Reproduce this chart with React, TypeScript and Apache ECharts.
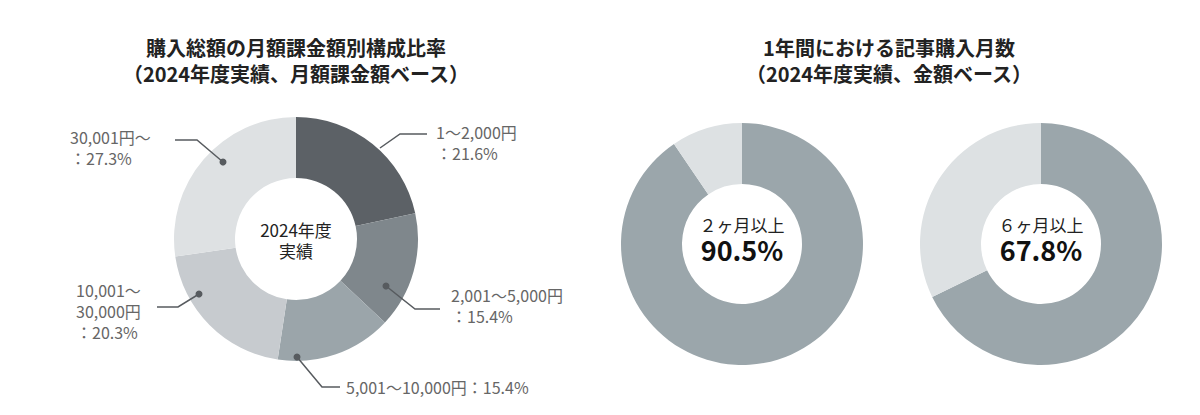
import React, { useEffect, useRef } from 'react';
import * as echarts from 'echarts';

// ---------- text ----------
const LEFT_TITLE = '購入総額の月額課金額別構成比率\n（2024年度実績、月額課金額ベース）';
const RIGHT_TITLE = '1年間における記事購入月数\n（2024年度実績、金額ベース）';
const CENTER_TEXT = '2024年度\n実績';

// ---------- data: left donut ----------
const TIER_NAMES = ['1～2,000円', '2,001～5,000円', '5,001～10,000円', '10,001～\n30,000円', '30,001円～'];
const TIER_SEPARATORS = ['\n：', '\n：', '：', '\n：', '\n：'];
const TIER_SHARES = [21.6, 15.4, 15.4, 20.3, 27.3];
const TIER_COLORS = ['#5c6166', '#7f878c', '#9ba5aa', '#c7cbcf', '#dee1e3'];

// ---------- data: right donuts ----------
const MONTH_LABELS = ['２ヶ月以上', '６ヶ月以上'];
const MONTH_SHARES = [90.5, 67.8];
const MONTH_REMAINDERS = [9.5, 32.2];
const MONTH_COLORS = ['#9ba6ab', '#dde1e3'];

// ---------- layout ----------
const FONT = '"Noto Sans CJK JP", "Noto Sans", sans-serif';
const LEFT_CENTER = [296, 239];
const RIGHT_CENTERS = [
  [742, 244],
  [1041, 244],
];
// leader-line points, label anchor and dot, as offsets from the left donut centre
const LABEL_LAYOUT = [
  { line: [[84, -91], [104, -105], [131, -105]], label: [140, -96.5], dot: null as number[] | null },
  { line: [[90, 47], [119, 70], [144, 70]], label: [155, 66.5], dot: [90, 47] },
  { line: [[1, 118], [26, 148], [44, 148]], label: [50, 148], dot: [1, 118] },
  { line: [[-97, 55], [-118, 68], [-139, 68]], label: [-220, 72], dot: [-97, 55] },
  { line: [[-73, -77], [-99, -99], [-121, -99]], label: [-226, -91.5], dot: [-73, -77] },
];
const LEADER_COLOR = '#575b5f';

export default function App() {
  const ref = useRef<HTMLDivElement>(null);

  useEffect(() => {
    if (!ref.current) return;
    const chart = echarts.init(ref.current, undefined, { renderer: 'svg' });
    const [cx, cy] = LEFT_CENTER;

    const leaders: any[] = [];
    LABEL_LAYOUT.forEach((l) => {
      leaders.push({
        type: 'polyline',
        silent: true,
        z: 100,
        shape: { points: l.line.map((p) => [cx + p[0], cy + p[1]]) },
        style: { stroke: LEADER_COLOR, lineWidth: 1.5, fill: null },
      });
      if (l.dot) {
        leaders.push({
          type: 'circle',
          silent: true,
          z: 101,
          shape: { cx: cx + l.dot[0], cy: cy + l.dot[1], r: 3.5 },
          style: { fill: LEADER_COLOR },
        });
      }
    });

    const monthSeries = MONTH_LABELS.map((label, i) => ({
      type: 'pie',
      silent: true,
      center: RIGHT_CENTERS[i],
      radius: [60, 121],
      startAngle: 90,
      clockwise: true,
      avoidLabelOverlap: false,
      labelLine: { show: false },
      label: { show: false },
      data: [
        {
          name: label,
          value: MONTH_SHARES[i],
          itemStyle: { color: MONTH_COLORS[0] },
          label: {
            show: true,
            position: 'center',
            formatter: (p: any) => `{t|${p.name}}\n{v|${p.value}%}`,
            padding: [0, 0, 12, 0],
            rich: {
              t: { fontSize: 17, color: '#222', lineHeight: 22, fontFamily: FONT },
              v: { fontSize: 27, fontWeight: 'bold', color: '#111', lineHeight: 28, fontFamily: FONT },
            },
          },
        },
        { name: '', value: MONTH_REMAINDERS[i], itemStyle: { color: MONTH_COLORS[1] } },
      ],
    }));

    chart.setOption({
      animation: false,
      textStyle: { fontFamily: FONT },
      title: [
        {
          text: LEFT_TITLE,
          left: 296,
          top: 34,
          padding: 0,
          textAlign: 'center',
          textVerticalAlign: 'top',
          textStyle: { fontSize: 20, fontWeight: 'bold', lineHeight: 26, color: '#222', fontFamily: FONT },
        },
        {
          text: RIGHT_TITLE,
          left: 889,
          top: 34,
          padding: 0,
          textAlign: 'center',
          textVerticalAlign: 'top',
          textStyle: { fontSize: 20, fontWeight: 'bold', lineHeight: 26, color: '#222', fontFamily: FONT },
        },
        {
          text: CENTER_TEXT,
          left: cx,
          top: cy + 1,
          padding: 0,
          textAlign: 'center',
          textVerticalAlign: 'middle',
          textStyle: { fontSize: 17, fontWeight: 'normal', lineHeight: 21, color: '#222', fontFamily: FONT },
        },
      ],
      graphic: leaders,
      series: [
        {
          type: 'pie',
          silent: true,
          center: LEFT_CENTER,
          radius: [61, 122],
          startAngle: 90,
          clockwise: true,
          avoidLabelOverlap: false,
          label: {
            show: true,
            position: 'outside',
            color: '#666',
            fontSize: 16,
            lineHeight: 21,
            fontFamily: FONT,
            formatter: (p: any) => `${p.name}${TIER_SEPARATORS[p.dataIndex]}${p.value}%`,
          },
          labelLine: { show: false },
          labelLayout: (params: any) => {
            const l = LABEL_LAYOUT[params.dataIndex];
            return {
              x: cx + l.label[0],
              y: cy + l.label[1],
              align: 'left',
              verticalAlign: 'middle',
            };
          },
          data: TIER_NAMES.map((name, i) => ({
            name,
            value: TIER_SHARES[i],
            itemStyle: { color: TIER_COLORS[i] },
          })),
        },
        ...monthSeries,
      ],
    });

    return () => chart.dispose();
  }, []);

  return (
    <div
      ref={ref}
      style={{ position: 'fixed', left: 0, top: 0, width: 1200, height: 415, background: '#fff' }}
    />
  );
}
